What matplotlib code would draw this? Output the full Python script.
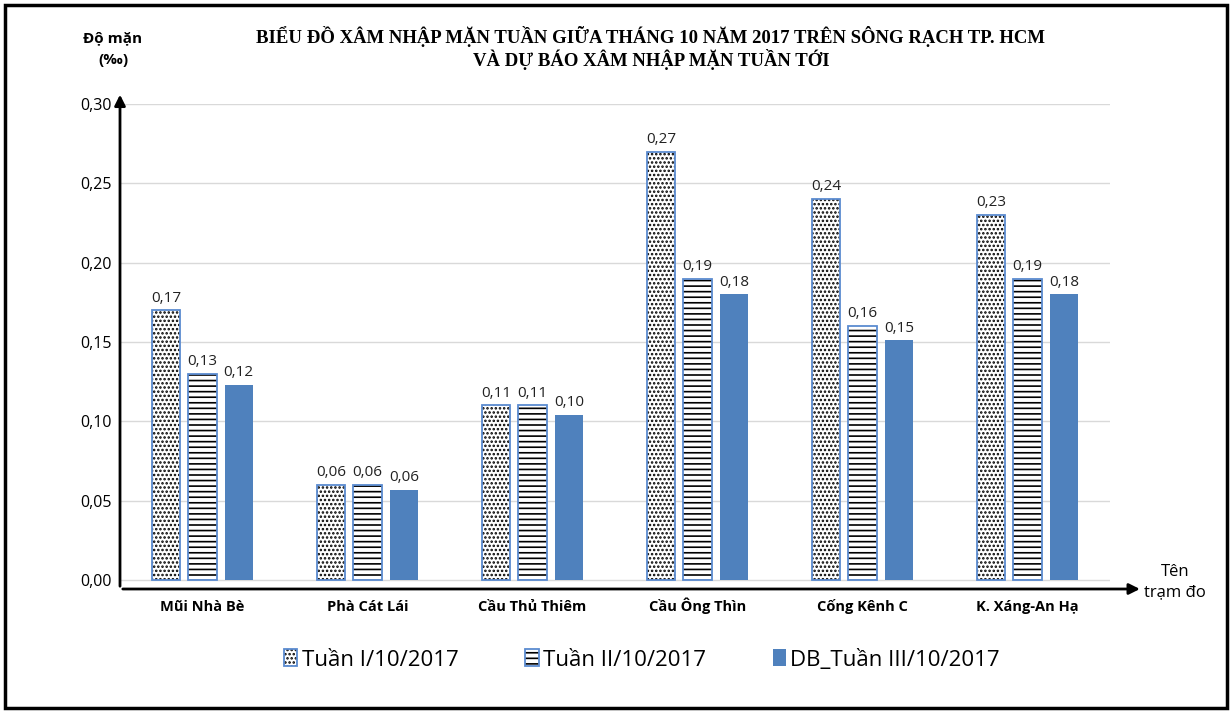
import numpy as np
import matplotlib
matplotlib.use("Agg")
import matplotlib.pyplot as plt
from matplotlib.patches import Patch, Rectangle
from matplotlib.legend_handler import HandlerTuple

plt.rcParams["font.family"] = ["Open Sans", "DejaVu Sans"]
plt.rcParams["hatch.linewidth"] = 1.2

stations = ["Mũi Nhà Bè", "Phà Cát Lái", "Cầu Thủ Thiêm", "Cầu Ông Thìn", "Cống Kênh C", "K. Xáng-An Hạ"]
week1 = [0.17, 0.06, 0.11, 0.27, 0.24, 0.23]
week2 = [0.13, 0.06, 0.11, 0.19, 0.16, 0.19]
week3_forecast = [0.123, 0.057, 0.104, 0.180, 0.151, 0.180]
series_names = ["Tuần I/10/2017", "Tuần II/10/2017", "DB_Tuần III/10/2017"]

blue = "#4f81bd"
edge_blue = "#5b8bd0"

fig = plt.figure(figsize=(12.32, 7.11), dpi=100)
ax = fig.add_axes([120 / 1232, 1 - 589 / 711, 990 / 1232, 485 / 711])

x = np.arange(len(stations))
w = 0.17
step = 0.22

# series 1: dotted fill, series 2: horizontal lines (hatch black, outline blue)
for vals, off, hatch in [(week1, -step, "...."), (week2, 0, "---")]:
    ax.bar(x + off, vals, w, color="white", edgecolor="black", hatch=hatch, lw=0, zorder=2)
    ax.bar(x + off, vals, w, color="none", edgecolor=edge_blue, lw=1.3, zorder=3)
ax.bar(x + step, week3_forecast, w, color=blue, lw=0, zorder=2)

for vals, off in [(week1, -step), (week2, 0), (week3_forecast, step)]:
    for xi, v in zip(x, vals):
        ax.text(xi + off, v + 0.003, f"{v:.2f}".replace(".", ","), ha="center", va="bottom",
                fontsize=11, color="#222222")

ax.set_xlim(-0.5, 5.5)
ax.set_ylim(-0.00567, 0.30)
ax.set_yticks(np.arange(0, 0.31, 0.05))
ax.set_yticklabels([f"{t:.2f}".replace(".", ",") for t in np.arange(0, 0.31, 0.05)], fontsize=11.5)
ax.set_xticks(x)
ax.set_xticklabels(stations, fontsize=10.5, fontweight="bold", va="baseline")
ax.tick_params(axis="both", length=0)
ax.tick_params(axis="x", pad=16)
ax.tick_params(axis="y", pad=6)
ax.yaxis.grid(True, color="#d9d9d9", lw=1)
ax.set_axisbelow(True)
for s in ax.spines.values():
    s.set_visible(False)

# axis arrows
ax.annotate("", xy=(1.033, 0), xytext=(0, 0), xycoords="axes fraction",
            arrowprops=dict(arrowstyle="-|>", lw=2, color="black", mutation_scale=16),
            annotation_clip=False)
ax.annotate("", xy=(0, 1.025), xytext=(0, 0), xycoords="axes fraction",
            arrowprops=dict(arrowstyle="-|>", lw=2, color="black", mutation_scale=16),
            annotation_clip=False)

fig.text(113 / 1232, 1 - 49 / 711, "Độ mặn\n(‰)", ha="center", va="center",
         fontsize=11, fontweight="bold", linespacing=1.7)
fig.text(1175 / 1232, 1 - 582 / 711, "Tên\ntrạm đo", ha="center", va="center",
         fontsize=12, linespacing=1.3)
fig.text(651 / 1232, 1 - 48 / 711,
         "BIỂU ĐỒ XÂM NHẬP MẶN TUẦN GIỮA THÁNG 10 NĂM 2017 TRÊN SÔNG RẠCH TP. HCM\n"
         "VÀ DỰ BÁO XÂM NHẬP MẶN TUẦN TỚI",
         ha="center", va="center", fontsize=13.5, fontweight="bold",
         family="Liberation Serif", linespacing=1.15)

h1 = (Patch(facecolor="white", edgecolor="black", hatch="....", lw=0),
      Patch(facecolor="none", edgecolor=edge_blue, lw=1.3))
h2 = (Patch(facecolor="white", edgecolor="black", hatch="---", lw=0),
      Patch(facecolor="none", edgecolor=edge_blue, lw=1.3))
h3 = Patch(facecolor=blue, lw=0)
fig.legend([h1, h2, h3], series_names, loc="center", bbox_to_anchor=(642 / 1232, 1 - 660 / 711),
           ncol=3, frameon=False, fontsize=16, handlelength=0.6, handleheight=0.8,
           handletextpad=0.2, columnspacing=3.0,
           handler_map={tuple: HandlerTuple(ndivide=1)})

fig.add_artist(Rectangle((0.004, 0.004), 0.992, 0.989, transform=fig.transFigure,
                         fill=False, lw=2.5, edgecolor="black"))

fig.savefig("out.png", dpi=100)
